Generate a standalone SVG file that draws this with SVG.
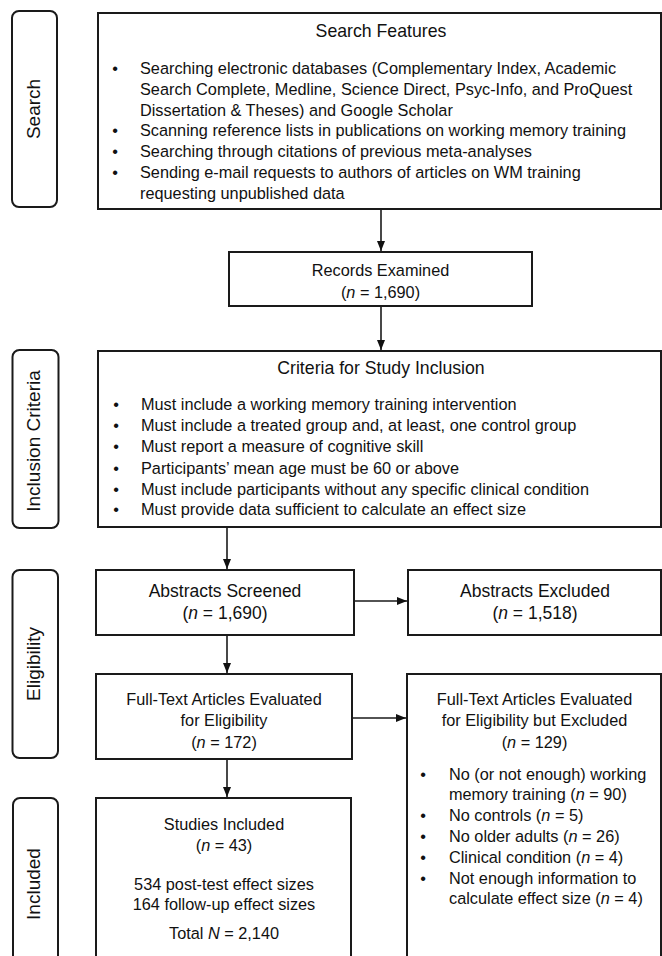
<svg xmlns="http://www.w3.org/2000/svg" width="662" height="956" viewBox="0 0 662 956">
<defs>
<marker id="ah" markerWidth="10" markerHeight="10" refX="10" refY="5" orient="auto" markerUnits="userSpaceOnUse">
<path d="M0,1 L10,5 L0,9 Z" fill="#111"/>
</marker>
<style>
.box{fill:#fff;stroke:#1a1a1a;stroke-width:2}
.pill{fill:#fff;stroke:#1a1a1a;stroke-width:2}
.conn{stroke:#1a1a1a;stroke-width:1.6;fill:none}
text{font-family:"Liberation Sans",Arial,sans-serif;fill:#111}
.t{font-size:16.3px}
.ttl{font-size:17.7px;text-anchor:middle}
.ab{font-size:17.5px;text-anchor:middle}
.c{font-size:16.3px;text-anchor:middle}
.bul{font-size:16.3px;text-anchor:middle}
.side{font-size:19px;text-anchor:middle}
.i{font-style:italic}
</style>
</defs>
<rect x="0" y="0" width="662" height="956" fill="#fff"/>

<g id="label-search">
<rect class="pill" x="12" y="11" width="45" height="196" rx="7"/>
<text class="side" transform="translate(39.5,109) rotate(-90)">Search</text>
</g>
<g id="label-inclusion">
<rect class="pill" x="12.5" y="350" width="46" height="178" rx="7"/>
<text class="side" transform="translate(40,441) rotate(-90)">Inclusion Criteria</text>
</g>
<g id="label-eligibility">
<rect class="pill" x="12.5" y="570" width="45.5" height="188" rx="7"/>
<text class="side" transform="translate(39.5,664) rotate(-90)">Eligibility</text>
</g>
<g id="label-included">
<rect class="pill" x="13" y="798" width="45" height="172" rx="7"/>
<text class="side" transform="translate(39.5,884) rotate(-90)">Included</text>
</g>

<g id="search-features">
<rect class="box" x="98" y="13" width="563" height="196"/>
<text class="ttl" x="381" y="37">Search Features</text>
<text class="bul" x="115" y="74">•</text>
<text class="t" x="140" y="74">Searching electronic databases (Complementary Index, Academic</text>
<text class="t" x="140" y="94.8">Search Complete, Medline, Science Direct, Psyc-Info, and ProQuest</text>
<text class="t" x="140" y="115.6">Dissertation &amp; Theses) and Google Scholar</text>
<text class="bul" x="115" y="136.4">•</text>
<text class="t" x="140" y="136.4">Scanning reference lists in publications on working memory training</text>
<text class="bul" x="115" y="157.2">•</text>
<text class="t" x="140" y="157.2">Searching through citations of previous meta-analyses</text>
<text class="bul" x="115" y="178">•</text>
<text class="t" x="140" y="178">Sending e-mail requests to authors of articles on WM training</text>
<text class="t" x="140" y="198.8">requesting unpublished data</text>
</g>

<g id="records-examined">
<rect class="box" x="229" y="252" width="303" height="54"/>
<text class="c" x="380.5" y="276">Records Examined</text>
<text class="c" x="380.5" y="298">(<tspan class="i">n</tspan> = 1,690)</text>
</g>

<g id="criteria">
<rect class="box" x="98" y="351" width="563" height="176"/>
<text class="ttl" x="381" y="374">Criteria for Study Inclusion</text>
<text class="bul" x="116" y="410">•</text>
<text class="t" x="141" y="410">Must include a working memory training intervention</text>
<text class="bul" x="116" y="431">•</text>
<text class="t" x="141" y="431">Must include a treated group and, at least, one control group</text>
<text class="bul" x="116" y="452">•</text>
<text class="t" x="141" y="452">Must report a measure of cognitive skill</text>
<text class="bul" x="116" y="473.5">•</text>
<text class="t" x="141" y="473.5">Participants’ mean age must be 60 or above</text>
<text class="bul" x="116" y="494.5">•</text>
<text class="t" x="141" y="494.5">Must include participants without any specific clinical condition</text>
<text class="bul" x="116" y="515">•</text>
<text class="t" x="141" y="515">Must provide data sufficient to calculate an effect size</text>
</g>

<g id="abstracts-screened">
<rect class="box" x="96" y="570" width="258" height="65"/>
<text class="ab" x="225" y="597">Abstracts Screened</text>
<text class="ab" x="225" y="619">(<tspan class="i">n</tspan> = 1,690)</text>
</g>

<g id="abstracts-excluded">
<rect class="box" x="408" y="570" width="253" height="65"/>
<text class="ab" x="535" y="597">Abstracts Excluded</text>
<text class="ab" x="535" y="619">(<tspan class="i">n</tspan> = 1,518)</text>
</g>

<g id="fulltext-evaluated">
<rect class="box" x="96" y="674" width="256" height="85"/>
<text class="c" x="224" y="705">Full-Text Articles Evaluated</text>
<text class="c" x="224" y="725.5">for Eligibility</text>
<text class="c" x="224" y="747.5">(<tspan class="i">n</tspan> = 172)</text>
</g>

<g id="fulltext-excluded">
<rect class="box" x="407" y="674" width="254" height="300"/>
<text class="c" x="534.5" y="705">Full-Text Articles Evaluated</text>
<text class="c" x="534.5" y="725.5">for Eligibility but Excluded</text>
<text class="c" x="534.5" y="747.5">(<tspan class="i">n</tspan> = 129)</text>
<text class="bul" x="423" y="779.5">•</text>
<text class="t" x="449" y="779.5">No (or not enough) working</text>
<text class="t" x="449" y="800.3">memory training (<tspan class="i">n</tspan> = 90)</text>
<text class="bul" x="423" y="821.1">•</text>
<text class="t" x="449" y="821.1">No controls (<tspan class="i">n</tspan> = 5)</text>
<text class="bul" x="423" y="841.9">•</text>
<text class="t" x="449" y="841.9">No older adults (<tspan class="i">n</tspan> = 26)</text>
<text class="bul" x="423" y="862.7">•</text>
<text class="t" x="449" y="862.7">Clinical condition (<tspan class="i">n</tspan> = 4)</text>
<text class="bul" x="423" y="883.5">•</text>
<text class="t" x="449" y="883.5">Not enough information to</text>
<text class="t" x="449" y="904.3">calculate effect size (<tspan class="i">n</tspan> = 4)</text>
</g>

<g id="studies-included">
<rect class="box" x="96" y="798" width="255" height="176"/>
<text class="c" x="224" y="829.5">Studies Included</text>
<text class="c" x="224" y="851">(<tspan class="i">n</tspan> = 43)</text>
<text class="c" x="224" y="890">534 post-test effect sizes</text>
<text class="c" x="224" y="909.5">164 follow-up effect sizes</text>
<text class="c" x="224" y="938.5">Total <tspan class="i">N</tspan> = 2,140</text>
</g>

<g id="connectors">
<line class="conn" x1="381" y1="210" x2="381" y2="251" marker-end="url(#ah)"/>
<line class="conn" x1="381" y1="307" x2="381" y2="350" marker-end="url(#ah)"/>
<line class="conn" x1="227" y1="528" x2="227" y2="569" marker-end="url(#ah)"/>
<line class="conn" x1="355" y1="601" x2="407" y2="601" marker-end="url(#ah)"/>
<line class="conn" x1="227" y1="636" x2="227" y2="673" marker-end="url(#ah)"/>
<line class="conn" x1="353" y1="718" x2="406" y2="718" marker-end="url(#ah)"/>
<line class="conn" x1="227" y1="760" x2="227" y2="797" marker-end="url(#ah)"/>
</g>
</svg>
